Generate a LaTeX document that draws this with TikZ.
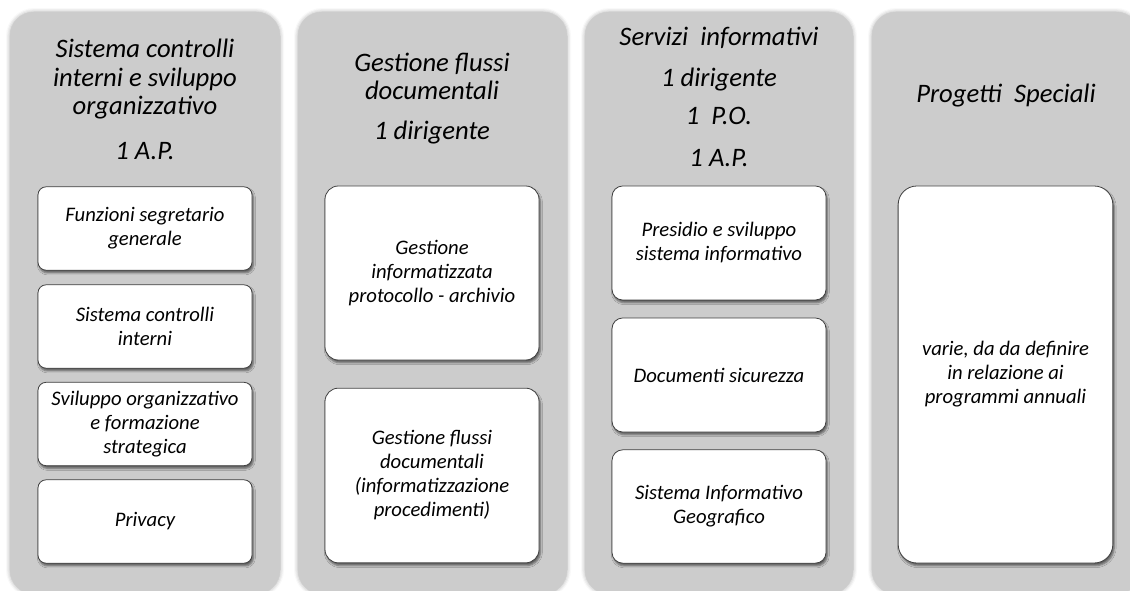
\documentclass[tikz,border=0pt]{standalone}
\usepackage{fontspec}
\setmainfont{Carlito}
\usepackage{tikz}
\usetikzlibrary{shadows.blur}

\definecolor{grigio}{RGB}{204,204,204}
\definecolor{bordo}{RGB}{64,64,64}

\begin{document}
\begin{tikzpicture}[x=0.75pt,y=-0.75pt,
		colonna/.style={fill=grigio, rounded corners=18pt,
			blur shadow={shadow xshift=0pt, shadow yshift=0pt, shadow blur radius=3pt, shadow opacity=35}},
		riquadro/.style={draw=bordo, line width=0.6pt, fill=white, align=center, inner sep=0pt,
			minimum width=160.5pt, font=\fontsize{15.5}{18}\selectfont\itshape,
			blur shadow={shadow xshift=1pt, shadow yshift=-2pt, shadow blur radius=1.5pt, shadow opacity=55}},
		titolo/.style={align=center, font=\fontsize{20}{21.5}\selectfont\itshape}]
		% Rahmen
		\useasboundingbox (0,0) rectangle (1130,591);

		% Koordinaten
		\coordinate (c1a) at (10,12);
		\coordinate (c1b) at (280,594);
		\coordinate (c2a) at (298,12);
		\coordinate (c2b) at (567,594);
		\coordinate (c3a) at (585,12);
		\coordinate (c3b) at (853,594);
		\coordinate (c4a) at (872,12);
		\coordinate (c4b) at (1140,594);

		% Spalten
		\fill[colonna] (c1a) rectangle (c1b);
		\fill[colonna] (c2a) rectangle (c2b);
		\fill[colonna] (c3a) rectangle (c3b);
		\fill[colonna] (c4a) rectangle (c4b);

		% Titel (base = letzte Zeile)
		\node[titolo, anchor=base] (sci) at (145,115) {Sistema controlli\\interni e sviluppo\\organizzativo};
		\node[titolo, anchor=base] (sci_ap) at (145,160) {1 A.P.};
		\node[titolo, anchor=base] (gfd) at (432,100) {Gestione flussi\\documentali};
		\node[titolo, anchor=base] (gfd_dir) at (432,140) {1 dirigente};
		\node[titolo, anchor=base] (si) at (719,46) {Servizi~ informativi};
		\node[titolo, anchor=base] (si_dir) at (719,87) {1 dirigente};
		\node[titolo, anchor=base] (si_po) at (719,125) {1~ P.O.};
		\node[titolo, anchor=base] (si_ap) at (719,167) {1 A.P.};
		\node[titolo, anchor=base] (ps) at (1006,103) {Progetti~ Speciali};

		% Kaesten
		\node[riquadro, minimum height=62.5pt, rounded corners=6pt] (fsg) at (145,228.5) {Funzioni segretario\\generale};
		\node[riquadro, minimum height=62.5pt, rounded corners=6pt] (sc) at (145,326.5) {Sistema controlli\\interni};
		\node[riquadro, minimum height=62.5pt, rounded corners=6pt] (so) at (145,424) {Sviluppo organizzativo\\e formazione\\strategica};
		\node[riquadro, minimum height=62.5pt, rounded corners=6pt] (pr) at (145,521.5) {Privacy};

		\node[riquadro, minimum height=130.5pt, rounded corners=10pt] (gip) at (432,273) {Gestione\\informatizzata\\protocollo - archivio};
		\node[riquadro, minimum height=131pt, rounded corners=10pt] (gfp) at (432,475.5) {Gestione flussi\\documentali\\(informatizzazione\\procedimenti)};

		\node[riquadro, minimum height=85.5pt, rounded corners=8pt] (pss) at (719,243) {Presidio e sviluppo\\sistema informativo};
		\node[riquadro, minimum height=85.5pt, rounded corners=8pt] (ds) at (719,375) {Documenti sicurezza};
		\node[riquadro, minimum height=85pt, rounded corners=8pt] (sig) at (719,506.5) {Sistema Informativo\\Geografico};

		\node[riquadro, minimum width=161pt, minimum height=282.75pt, rounded corners=14pt] (var) at (1005.5,374.5) {varie, da da definire\\in relazione ai\\programmi annuali};
	\end{tikzpicture}
\end{document}
